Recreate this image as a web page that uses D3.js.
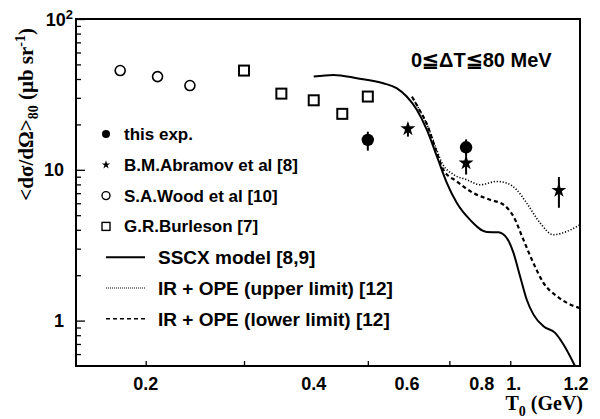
<!DOCTYPE html>
<html>
<head>
<meta charset="utf-8">
<script src="https://cdn.jsdelivr.net/npm/d3@7"></script>
<style>
  body { margin: 0; background: #fff; }
  text { font-family: "Liberation Sans", Arial, sans-serif; font-weight: bold; fill: #000; }
  .serif { font-family: "Liberation Serif", "Times New Roman", serif; }
</style>
</head>
<body>
<svg id="chart" width="600" height="419"></svg>
<script>
// ---- data ----
var xTickValues = [0.2, 0.3, 0.5, 0.7, 0.9];
var xLabelValues = [0.2, 0.4, 0.6, 0.8, 1.0, 1.2];
var xLabelText = ["0.2", "0.4", "0.6", "0.8", "1.", "1.2"];
var yMajorValues = [1, 10, 100];
var yMinorValues = [0.6, 0.7, 0.8, 0.9, 2, 3, 4, 5, 6, 7, 8, 9, 20, 30, 40, 50, 60, 70, 80, 90];

var woodX = [0.18, 0.21, 0.24];
var woodY = [45.5, 41.5, 36.2];

var burlesonX = [0.30, 0.35, 0.40, 0.45, 0.50];
var burlesonY = [45.5, 32.0, 28.9, 23.5, 30.6];

var thisExpX = [0.5, 0.75];
var thisExpY = [15.8, 14.1];
var thisExpLo = [13.4, 12.3];
var thisExpHi = [17.9, 15.9];

var abramovX = [0.59, 0.75, 1.1];
var abramovY = [18.7, 11.1, 7.3];
var abramovLo = [16.6, 9.3, 5.6];
var abramovHi = [19.9, 12.3, 8.95];

var sscxX = [0.40, 0.434, 0.478, 0.533, 0.563, 0.587, 0.612, 0.638, 0.665, 0.693, 0.722, 0.762, 0.817, 0.857, 0.887, 0.912, 0.937, 0.963, 0.990, 1.032, 1.083, 1.121, 1.176];
var sscxY = [41.5, 42.6, 40.5, 37.5, 34.8, 30.6, 25.0, 18.4, 12.25, 8.17, 6.02, 4.67, 3.87, 3.85, 3.53, 2.81, 1.97, 1.38, 1.10, 0.917, 0.829, 0.694, 0.498];

var upperX = [0.600, 0.615, 0.640, 0.660, 0.680, 0.712, 0.752, 0.795, 0.851, 0.887, 0.924, 0.963, 1.018, 1.075, 1.136, 1.2];
var upperY = [30.5, 26.0, 19.5, 14.5, 11.0, 9.3, 8.6, 7.96, 8.37, 8.17, 7.37, 6.02, 4.44, 3.71, 3.90, 4.32];

var lowerX = [0.600, 0.615, 0.640, 0.660, 0.683, 0.722, 0.773, 0.828, 0.875, 0.912, 0.950, 0.990, 1.032, 1.091, 1.152, 1.2];
var lowerY = [30.5, 26.0, 19.5, 14.0, 10.0, 8.37, 7.01, 6.33, 5.87, 4.91, 3.44, 2.41, 1.78, 1.45, 1.28, 1.21];

var legendLabels = ["this exp.", "B.M.Abramov et al [8]", "S.A.Wood et al [10]", "G.R.Burleson [7]",
                    "SSCX model [8,9]", "IR + OPE (upper limit) [12]", "IR + OPE (lower limit) [12]"];
var legendKinds = ["dot", "star", "circle", "square", "solid", "dotted", "dashed"];

// ---- layout ----
var padL = 76, padR = 580, padT = 19, padB = 366;
var svg = d3.select('#chart');

var x = d3.scaleLog().domain([0.15, 1.2]).range([padL, padR]);
var y = d3.scaleLog().domain([0.5, 100]).range([padB, padT]);

svg.append('defs').append('clipPath').attr('id', 'plotclip')
  .append('rect').attr('x', padL).attr('y', padT).attr('width', padR - padL).attr('height', padB - padT);

// ticks (inward, no labels)
function thin(g) { g.select('.domain').remove(); g.selectAll('line').attr('stroke-width', 1.3); }
svg.append('g').attr('transform', 'translate(0,' + padB + ')')
  .call(d3.axisBottom(x).tickValues(xTickValues).tickSize(-5).tickFormat('')).call(thin);
svg.append('g').attr('transform', 'translate(' + padL + ',0)')
  .call(d3.axisLeft(y).tickValues(yMinorValues).tickSize(-5).tickFormat('')).call(thin);
svg.append('g').attr('transform', 'translate(' + padL + ',0)')
  .call(d3.axisLeft(y).tickValues(yMajorValues).tickSize(-9).tickFormat('')).call(thin);

// frame
svg.append('rect').attr('x', padL).attr('y', padT).attr('width', padR - padL).attr('height', padB - padT)
  .attr('fill', 'none').attr('stroke', '#000').attr('stroke-width', 2);

// x tick labels (ROOT places some of them a bit off their value)
var labelNudge = {"0.6": -5, "1.": -22, "1.2": -4};
svg.selectAll('.xlab').data(xLabelValues).enter().append('text')
  .attr('class', 'xlab')
  .attr('x', function(d, i) { return x(d) + (labelNudge[xLabelText[i]] || 0); })
  .attr('y', 390)
  .attr('text-anchor', 'middle')
  .style('font-size', '18px')
  .text(function(d, i) { return xLabelText[i]; });

// y tick labels
yMajorValues.forEach(function(v) {
  var t = svg.append('text').attr('x', 64).attr('y', y(v) + 6.5).attr('text-anchor', 'end').style('font-size', '18px');
  if (v === 100) {
    t.attr('x', 73);
    t.append('tspan').text('10');
    t.append('tspan').attr('dy', -7).style('font-size', '13px').text('2');
  } else {
    t.text(String(v));
  }
});

// axis titles
var xt = svg.append('text').attr('class', 'serif').attr('x', 583).attr('y', 410)
  .attr('text-anchor', 'end').style('font-size', '20px');
xt.append('tspan').text('T');
xt.append('tspan').attr('dy', 6).style('font-size', '14px').text('0');
xt.append('tspan').attr('dy', -6).text(' (GeV)');

var yt = svg.append('text').attr('class', 'serif')
  .attr('transform', 'translate(33,28) rotate(-90)')
  .attr('text-anchor', 'end').style('font-size', '21px');
yt.append('tspan').text('<dσ/dΩ>');
yt.append('tspan').attr('dy', 5).style('font-size', '14px').text('80');
yt.append('tspan').attr('dy', -5).text(' (μb sr');
yt.append('tspan').attr('dy', -8).style('font-size', '14px').text('-1');
yt.append('tspan').attr('dy', 8).text(')');

svg.append('text').attr('x', 411).attr('y', 67).style('font-size', '20px').text('0≦ΔT≦80 MeV');

// curves
var plot = svg.append('g').attr('clip-path', 'url(#plotclip)');
function curve(xs, ys) {
  var line = d3.line()
    .x(function(d) { return x(d[0]); })
    .y(function(d) { return y(d[1]); })
    .curve(d3.curveMonotoneX);
  return line(xs.map(function(v, i) { return [v, ys[i]]; }));
}
plot.append('path').attr('d', curve(sscxX, sscxY))
  .attr('fill', 'none').attr('stroke', '#000').attr('stroke-width', 2);
plot.append('path').attr('d', curve(upperX, upperY))
  .attr('fill', 'none').attr('stroke', '#000').attr('stroke-width', 1.6).attr('stroke-dasharray', '1.2,1.8');
plot.append('path').attr('d', curve(lowerX, lowerY))
  .attr('fill', 'none').attr('stroke', '#000').attr('stroke-width', 2.2).attr('stroke-dasharray', '4,3');

// markers
var star = d3.symbol().type(d3.symbolStar);

function errBars(xs, lo, hi) {
  plot.selectAll(null).data(xs).enter().append('line')
    .attr('x1', function(d) { return x(d); }).attr('x2', function(d) { return x(d); })
    .attr('y1', function(d, i) { return y(lo[i]); }).attr('y2', function(d, i) { return y(hi[i]); })
    .attr('stroke', '#000').attr('stroke-width', 2);
}
errBars(thisExpX, thisExpLo, thisExpHi);
errBars(abramovX, abramovLo, abramovHi);

plot.selectAll('.wood').data(woodX).enter().append('circle')
  .attr('cx', function(d) { return x(d); }).attr('cy', function(d, i) { return y(woodY[i]); })
  .attr('r', 5).attr('fill', '#fff').attr('stroke', '#000').attr('stroke-width', 1.6);

plot.selectAll('.burl').data(burlesonX).enter().append('rect')
  .attr('x', function(d) { return x(d) - 5; }).attr('y', function(d, i) { return y(burlesonY[i]) - 5; })
  .attr('width', 10).attr('height', 10).attr('fill', '#fff').attr('stroke', '#000').attr('stroke-width', 2);

plot.selectAll('.exp').data(thisExpX).enter().append('circle')
  .attr('cx', function(d) { return x(d); }).attr('cy', function(d, i) { return y(thisExpY[i]); })
  .attr('r', 6.2).attr('fill', '#000');

plot.selectAll('.abr').data(abramovX).enter().append('path')
  .attr('d', star.size(70)())
  .attr('transform', function(d, i) { return 'translate(' + x(d) + ',' + y(abramovY[i]) + ')'; })
  .attr('fill', '#000');

// legend
var legY0 = 134, legStep = 30.8;
legendLabels.forEach(function(lab, i) {
  var cy = legY0 + i * legStep, kind = legendKinds[i];
  var g = svg.append('g');
  if (kind === 'dot') g.append('circle').attr('cx', 106).attr('cy', cy).attr('r', 4).attr('fill', '#000');
  if (kind === 'star') g.append('path').attr('d', star.size(22)()).attr('transform', 'translate(106,' + cy + ')');
  if (kind === 'circle') g.append('circle').attr('cx', 106).attr('cy', cy).attr('r', 4)
    .attr('fill', 'none').attr('stroke', '#000').attr('stroke-width', 1.4);
  if (kind === 'square') g.append('rect').attr('x', 102).attr('y', cy - 4).attr('width', 8).attr('height', 8)
    .attr('fill', 'none').attr('stroke', '#000').attr('stroke-width', 1.4);
  var isLine = kind === 'solid' || kind === 'dotted' || kind === 'dashed';
  if (isLine) {
    var ln = g.append('line').attr('x1', 106).attr('x2', 145).attr('y1', cy).attr('y2', cy).attr('stroke', '#000');
    if (kind === 'solid') ln.attr('stroke-width', 2);
    if (kind === 'dotted') ln.attr('stroke-width', 1.2).attr('stroke-dasharray', '1,1');
    if (kind === 'dashed') ln.attr('stroke-width', 1.6).attr('stroke-dasharray', '4,3');
  }
  g.append('text').attr('x', isLine ? 158 : 124).attr('y', cy + (isLine ? 7 : 6))
    .style('font-size', isLine ? '19px' : '17px').text(lab);
});
</script>
</body>
</html>
